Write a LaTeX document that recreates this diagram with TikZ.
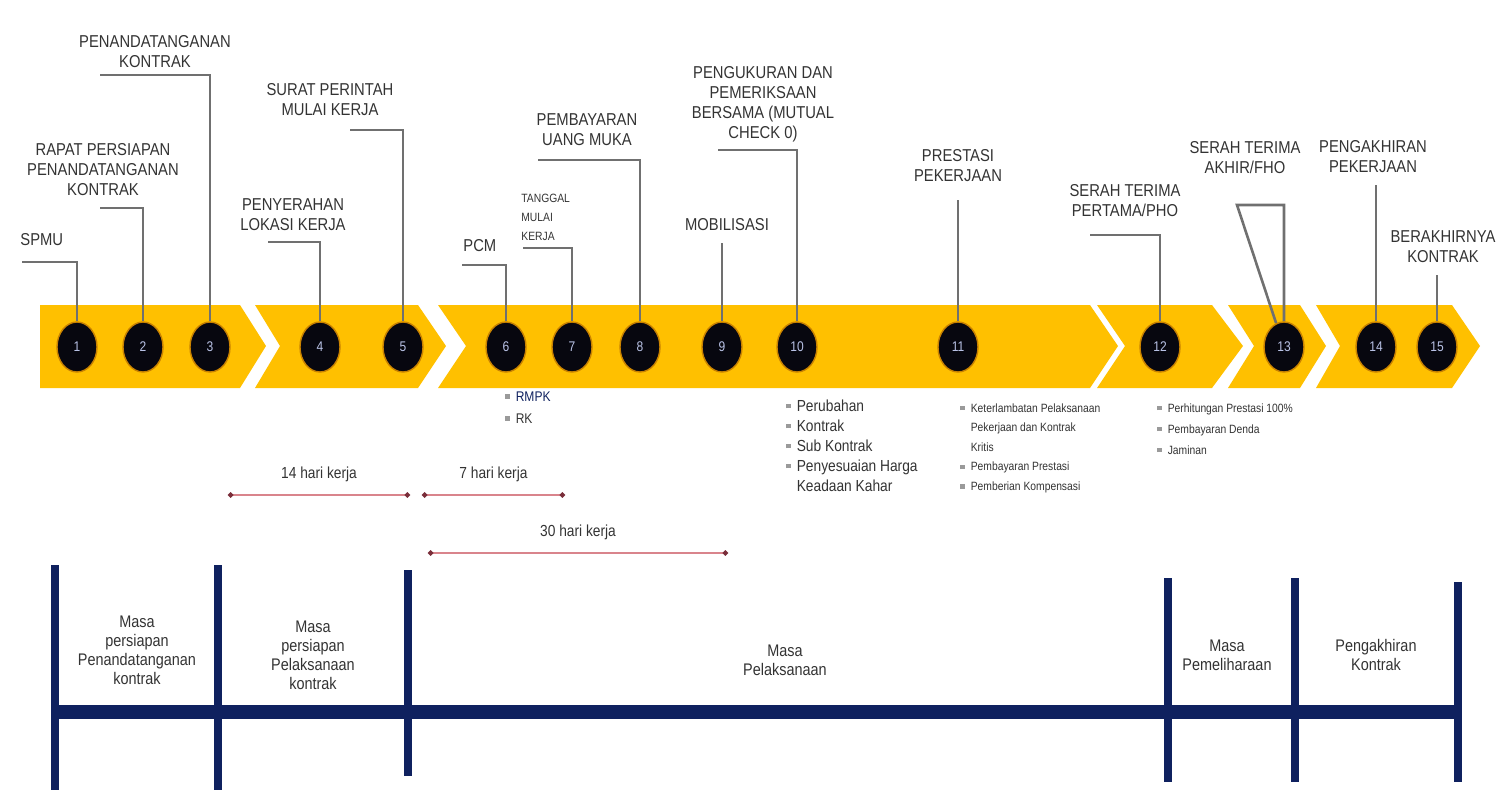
\documentclass[tikz,border=0pt]{standalone}
\usepackage{fontspec}
\setmainfont{Liberation Sans}[FakeStretch=0.86]
\usepackage{tikz}
\usetikzlibrary{arrows.meta,shapes.geometric}
\pgfdeclarelayer{bg}
\pgfsetlayers{bg,main}
\definecolor{bandgold}{HTML}{FFC000}
\definecolor{dotfill}{HTML}{07070F}
\definecolor{dotrim}{HTML}{C98200}
\definecolor{numtext}{HTML}{B9C2E6}
\definecolor{tagtext}{HTML}{333333}
\definecolor{leadgray}{HTML}{707070}
\definecolor{spanred}{HTML}{D9848C}
\definecolor{spandot}{HTML}{7A2E3A}
\definecolor{navy}{HTML}{0F215F}
\definecolor{bulgray}{HTML}{9A9A9A}
\newcommand{\bul}{\textcolor{bulgray}{\rule[0.3ex]{2.2pt}{2.2pt}}\hspace{3pt}}
\tikzset{
  band/.style={fill=bandgold, draw=none},
  num/.style={ellipse, fill=dotfill, draw=dotrim, line width=0.7pt, text=numtext,
    font=\fontsize{7}{8}\selectfont, minimum width=20pt, minimum height=25pt, inner sep=0pt},
  tag/.style={align=center, text=tagtext, font=\fontsize{8.6}{10}\selectfont, inner sep=1pt},
  note/.style={align=left, text=tagtext, inner sep=1pt},
  leader/.style={draw=leadgray, line width=1.3pt},
  span/.style={draw=spanred, line width=0.9pt,
    {Circle[length=2.6pt,color=spandot]}-{Circle[length=2.6pt,color=spandot]}},
  period/.style={align=center, text=tagtext, font=\fontsize{8.4}{9.5}\selectfont, inner sep=1pt},
  bar/.style={draw=navy, line width=4pt},
}

\begin{document}
\begin{tikzpicture}[x=0.5pt, y=-0.5pt]
        \useasboundingbox (0,0) rectangle (1501,799);

        % numbered stages
        \node (n1) [num] at (77,347) {1};
        \node (n2) [num] at (143,347) {2};
        \node (n3) [num] at (210,347) {3};
        \node (n4) [num] at (320,347) {4};
        \node (n5) [num] at (403,347) {5};
        \node (n6) [num] at (506,347) {6};
        \node (n7) [num] at (572,347) {7};
        \node (n8) [num] at (640,347) {8};
        \node (n9) [num] at (722,347) {9};
        \node (n10) [num] at (797,347) {10};
        \node (n11) [num] at (958,347) {11};
        \node (n12) [num] at (1160,347) {12};
        \node (n13) [num] at (1284,347) {13};
        \node (n14) [num] at (1376,347) {14};
        \node (n15) [num] at (1437,347) {15};

        % labels above
        \node (l1) [tag, anchor=west] at (18,240) {SPMU};
        \node (l2) [tag] at (103,170) {RAPAT PERSIAPAN\\PENANDATANGANAN\\KONTRAK};
        \node (l3) [tag] at (155,52) {PENANDATANGANAN\\KONTRAK};
        \node (l4) [tag] at (293,215) {PENYERAHAN\\LOKASI KERJA};
        \node (l5) [tag] at (330,100) {SURAT PERINTAH\\MULAI KERJA};
        \node (l6) [tag, anchor=west] at (461,246) {PCM};
        \node (l7) [tag, align=left, anchor=west, font=\fontsize{6}{9.5}\selectfont] at (519,217) {TANGGAL\\MULAI\\KERJA};
        \node (l8) [tag] at (587,130) {PEMBAYARAN\\UANG MUKA};
        \node (l9) [tag] at (727,225) {MOBILISASI};
        \node (l10) [tag] at (763,104) {PENGUKURAN DAN\\PEMERIKSAAN\\BERSAMA (MUTUAL\\CHECK 0)};
        \node (l11) [tag] at (958,166) {PRESTASI\\PEKERJAAN};
        \node (l12) [tag] at (1125,201) {SERAH TERIMA\\PERTAMA/PHO};
        \node (l13) [tag] at (1245,158) {SERAH TERIMA\\AKHIR/FHO};
        \node (l14) [tag] at (1373,157) {PENGAKHIRAN\\PEKERJAAN};
        \node (l15) [tag] at (1443,247) {BERAKHIRNYA\\KONTRAK};

        % leader bends
        \coordinate (b1) at (22,262);
        \coordinate (b2) at (100,208);
        \coordinate (b3) at (100,75);
        \coordinate (b4) at (268,242);
        \coordinate (b5) at (350,130);
        \coordinate (b6) at (462,265);
        \coordinate (b7) at (523,248);
        \coordinate (b8) at (538,160);
        \coordinate (b9) at (722,243);
        \coordinate (b10) at (718,150);
        \coordinate (b11) at (958,200);
        \coordinate (b12) at (1090,235);
        \coordinate (b13) at (1237,205);
        \coordinate (c13) at (1284,205);
        \coordinate (b14) at (1376,185);
        \coordinate (b15) at (1437,275);

        \begin{pgfonlayer}{bg}
                \fill[band] (40,305) -- (240,305) -- (266,346) -- (240,388) -- (40,388) -- cycle;
                \fill[band] (255,305) -- (418,305) -- (446,346) -- (418,388) -- (255,388) -- (280,346) -- cycle;
                \fill[band] (438,305) -- (1090,305) -- (1118,346) -- (1090,388) -- (438,388) -- (466,346) -- cycle;
                \fill[band] (1097,305) -- (1212,305) -- (1243,346) -- (1212,388) -- (1097,388) -- (1125,346) -- cycle;
                \fill[band] (1228,305) -- (1300,305) -- (1326,346) -- (1300,388) -- (1228,388) -- (1254,346) -- cycle;
                \fill[band] (1316,305) -- (1452,305) -- (1480,346) -- (1452,388) -- (1316,388) -- (1340,346) -- cycle;
                \draw[leader] (b1) -| (n1);
                \draw[leader] (b2) -| (n2);
                \draw[leader] (b3) -| (n3);
                \draw[leader] (b4) -| (n4);
                \draw[leader] (b5) -| (n5);
                \draw[leader] (b6) -| (n6);
                \draw[leader] (b7) -| (n7);
                \draw[leader] (b8) -| (n8);
                \draw[leader] (b9) -- (n9);
                \draw[leader] (b10) -| (n10);
                \draw[leader] (b11) -- (n11);
                \draw[leader] (b12) -| (n12);
                \draw[leader] (n13) -- (b13) -- (c13) -- (n13);
                \draw[leader] (b14) -- (n14);
                \draw[leader] (b15) -- (n15);
        \end{pgfonlayer}

        % notes below the band
        \node (r1) [note, anchor=north west, font=\fontsize{7}{11}\selectfont] at (503,389) {\bul\textcolor{navy}{RMPK}\\\bul RK};
        \node (r2) [note, anchor=north west, font=\fontsize{8}{10}\selectfont] at (784,397) {\bul Perubahan\\\bul Kontrak\\\bul Sub Kontrak\\\bul Penyesuaian Harga\\\hspace{5.2pt}Keadaan Kahar};
        \node (r3) [note, anchor=north west, font=\fontsize{6}{9.8}\selectfont] at (958,401) {\bul Keterlambatan Pelaksanaan\\\hspace{5.2pt}Pekerjaan dan Kontrak\\\hspace{5.2pt}Kritis\\\bul Pembayaran Prestasi\\\bul Pemberian Kompensasi};
        \node (r4) [note, anchor=north west, font=\fontsize{6}{10.5}\selectfont] at (1155,401) {\bul Perhitungan Prestasi 100\%\\\bul Pembayaran Denda\\\bul Jaminan};

        % working day spans
        \coordinate (d1) at (228,495);
        \coordinate (d2) at (410,495);
        \coordinate (d3) at (422,495);
        \coordinate (d4) at (565,495);
        \coordinate (d5) at (428,553);
        \coordinate (d6) at (728,553);
        \draw[span] (d1) -- (d2) node[midway, above=3pt, text=tagtext, font=\fontsize{8}{10}\selectfont] (s1) {14 hari kerja};
        \draw[span] (d3) -- (d4) node[midway, above=3pt, text=tagtext, font=\fontsize{8}{10}\selectfont] (s2) {7 hari kerja};
        \draw[span] (d5) -- (d6) node[midway, above=3pt, text=tagtext, font=\fontsize{8}{10}\selectfont] (s3) {30 hari kerja};

        % contract periods
        \coordinate (m0) at (55,712);
        \coordinate (m1) at (1460,712);
        \draw[navy, line width=7pt] (m0) -- (m1);
        \draw[bar] (55,565) -- (55,790);
        \draw[bar] (218,565) -- (218,790);
        \draw[bar] (408,570) -- (408,776);
        \draw[bar] (1168,578) -- (1168,782);
        \draw[bar] (1295,578) -- (1295,782);
        \draw[bar] (1458,582) -- (1458,782);
        \node (p1) [period] at (137,650) {Masa\\persiapan\\Penandatanganan\\kontrak};
        \node (p2) [period] at (313,655) {Masa\\persiapan\\Pelaksanaan\\kontrak};
        \node (p3) [period] at (785,660) {Masa\\Pelaksanaan};
        \node (p4) [period] at (1227,655) {Masa\\Pemeliharaan};
        \node (p5) [period] at (1376,655) {Pengakhiran\\Kontrak};
\end{tikzpicture}
\end{document}
